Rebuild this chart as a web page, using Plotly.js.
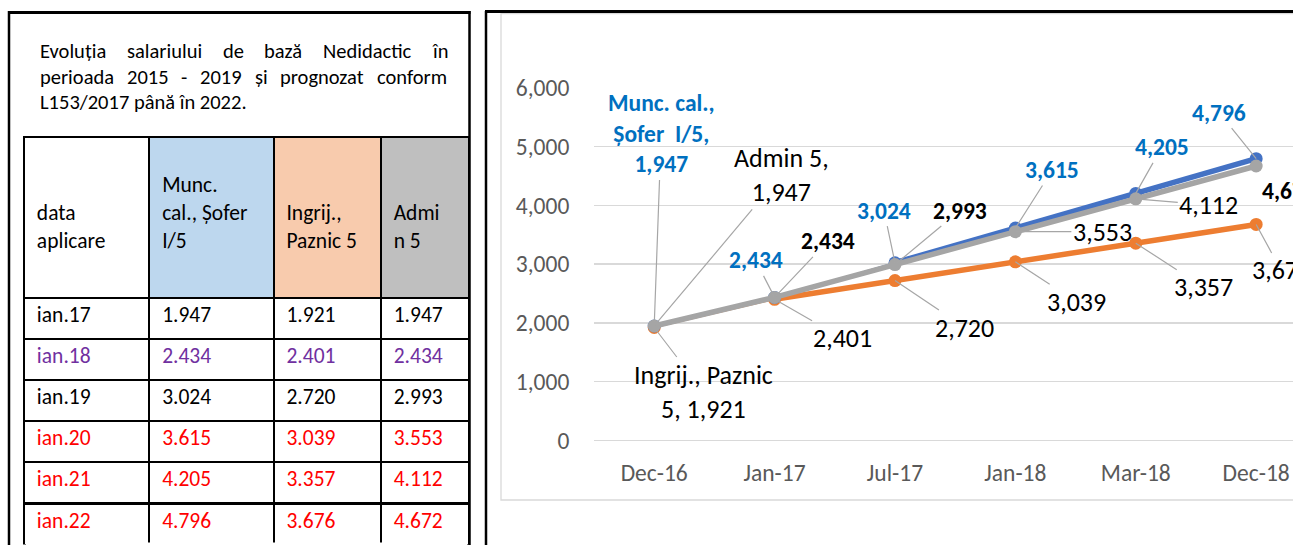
<!DOCTYPE html>
<html>
<head>
<meta charset="utf-8">
<script src="https://cdn.plot.ly/plotly-3.0.1.min.js"></script>
<style>
  html, body { margin: 0; padding: 0; background: #fff; }
  #chart { width: 1293px; height: 545px; }
</style>
</head>
<body>
<div id="chart"></div>
<script>
// chart data
const dates = ['Dec-16', 'Jan-17', 'Jul-17', 'Jan-18', 'Mar-18', 'Dec-18'];
const muncCal = [1947, 2434, 3024, 3615, 4205, 4796];
const ingrij = [1921, 2401, 2720, 3039, 3357, 3676];
const admin5 = [1947, 2434, 2993, 3553, 4112, 4672];
const yTicks = [0, 1000, 2000, 3000, 4000, 5000, 6000];

// table data
const tableDates = ['ian.17', 'ian.18', 'ian.19', 'ian.20', 'ian.21', 'ian.22'];
const tableHeaders = [['data', 'aplicare'], ['Munc.', 'cal., Șofer', 'I/5'], ['Ingrij.,', 'Paznic 5'], ['Admi', 'n 5']];
const headerFills = ['#FFFFFF', '#BDD7EE', '#F8CBAD', '#BFBFBF'];
const rowColors = ['#000000', '#7030A0', '#000000', '#FF0000', '#FF0000', '#FF0000'];

const paraLines = [
  'Evoluția salariului de bază Nedidactic în',
  'perioada 2015 - 2019 și prognozat conform',
  'L153/2017 până în 2022.'
];

const FONT = 'Calibri, Carlito, Lato, sans-serif';
const W = 1293, H = 545;
const px = x => x / W;
const py = y => 1 - y / H;

const fmtEn = v => v.toLocaleString('en-US');
const fmtRo = v => v.toLocaleString('de-DE');
const pad = s => '\u00A0' + s;
const NB = '\u00A0<br>';

const BLUE = '#4472C4', ORANGE = '#ED7D31', GRAY = '#A5A5A5';
const THIN = 1.5, THICK = 5.5;

function lineTrace(xs, ys, color, width) {
  return { type: 'scatter', mode: 'lines', x: xs, y: ys, line: { color: color, width: width },
    hoverinfo: 'skip', showlegend: false };
}
function markerTrace(ys, color) {
  return { type: 'scatter', mode: 'markers', x: dates, y: ys,
    marker: { color: color, size: 13 }, hoverinfo: 'skip', showlegend: false };
}

const traces = [
  {
    type: 'table',
    domain: { x: [px(24), px(469)], y: [0, py(136.5)] },
    columnwidth: [125, 124, 107, 88],
    header: {
      values: tableHeaders.map(h => (h.length > 2 ? NB : NB + NB) + h.map(pad).join('<br>')),
      align: 'left',
      height: 161,
      fill: { color: headerFills },
      line: { color: '#000000', width: 2 },
      font: { family: FONT, size: 21.5, color: '#000000' }
    },
    cells: {
      values: [tableDates, muncCal.map(fmtRo), ingrij.map(fmtRo), admin5.map(fmtRo)].map(col => col.map(pad)),
      align: 'left',
      height: 41.2,
      fill: { color: '#FFFFFF' },
      line: { color: '#000000', width: 2 },
      font: { family: FONT, size: 21.5, color: [rowColors, rowColors, rowColors, rowColors] }
    }
  },
  lineTrace(dates.slice(1), ingrij.slice(1), ORANGE, THICK),
  lineTrace(dates.slice(0, 2), ingrij.slice(0, 2), ORANGE, THIN),
  markerTrace(ingrij, ORANGE),
  lineTrace(dates.slice(0, 3), muncCal.slice(0, 3), BLUE, THIN),
  lineTrace(dates.slice(2), muncCal.slice(2), BLUE, THICK),
  markerTrace(muncCal, BLUE),
  lineTrace(dates, admin5, GRAY, THICK),
  markerTrace(admin5, GRAY)
];

// data labels with leader lines
const blueFont = { family: FONT, size: 23.5, color: '#0070C0', weight: 'bold' };
const blackFont = { family: FONT, size: 26, color: '#000000' };
const boldFont = { family: FONT, size: 23.5, color: '#000000', weight: 'bold' };

function label(i, series, text, ax, ay, font, arrow) {
  return {
    x: dates[i], y: series[i], xref: 'x', yref: 'y',
    text: text, ax: ax, ay: ay, font: font,
    showarrow: true, arrowhead: 0, arrowwidth: 1.2, standoff: 0,
    arrowcolor: arrow === false ? 'rgba(0,0,0,0)' : '#A6A6A6'
  };
}

const annotations = [
  label(0, muncCal, 'Munc. cal.,<br>Șofer  I/5,<br>' + fmtEn(muncCal[0]), 7, -192, blueFont),
  label(1, muncCal, fmtEn(muncCal[1]), -19, -37, blueFont),
  label(2, muncCal, fmtEn(muncCal[2]), -11, -52, blueFont),
  label(3, muncCal, fmtEn(muncCal[3]), 37, -58, blueFont),
  label(4, muncCal, fmtEn(muncCal[4]), 26, -46, blueFont),
  label(5, muncCal, fmtEn(muncCal[5]), -37, -46, blueFont),

  label(0, admin5, 'Admin 5,<br>' + fmtEn(admin5[0]), 127, -151, blackFont),
  label(1, admin5, fmtEn(admin5[1]), 53, -56, boldFont),
  label(2, admin5, fmtEn(admin5[2]), 65, -54, boldFont),
  label(3, admin5, fmtEn(admin5[3]), 87, 0, blackFont),
  label(4, admin5, fmtEn(admin5[4]), 73, 6, blackFont),
  label(5, admin5, fmtEn(admin5[5]), 33, 25, boldFont, false),

  label(0, ingrij, 'Ingrij., Paznic<br>5, ' + fmtEn(ingrij[0]), 49, 64, blackFont),
  label(1, ingrij, fmtEn(ingrij[1]), 68, 39, blackFont),
  label(2, ingrij, fmtEn(ingrij[2]), 70, 47, blackFont),
  label(3, ingrij, fmtEn(ingrij[3]), 61, 40, blackFont),
  label(4, ingrij, fmtEn(ingrij[4]), 68, 44, blackFont),
  label(5, ingrij, fmtEn(ingrij[5]), 25, 46, blackFont)
];

// justified paragraph above the table
const paraSize = 20.5;
const paraLeft = 39, paraRight = 446, paraY = [51, 77, 102];
const ctx = document.createElement('canvas').getContext('2d');
ctx.font = paraSize + 'px ' + FONT;
paraLines.forEach((line, li) => {
  const base = { xref: 'paper', yref: 'paper', xanchor: 'left', yanchor: 'middle', showarrow: false,
    font: { family: FONT, size: paraSize, color: '#000000' }, y: py(paraY[li]) };
  if (li === paraLines.length - 1) {
    annotations.push(Object.assign({}, base, { x: px(paraLeft - 1), text: line }));
    return;
  }
  const words = line.split(' ');
  const widths = words.map(w => ctx.measureText(w).width);
  const gap = (paraRight - paraLeft - widths.reduce((a, b) => a + b, 0)) / (words.length - 1);
  let x = paraLeft;
  words.forEach((w, k) => {
    annotations.push(Object.assign({}, base, { x: px(x - 1), text: w }));
    x += widths[k] + gap;
  });
});

const frame = { color: '#000000', width: 2.5 };
const shapes = [
  { type: 'rect', xref: 'paper', yref: 'paper', x0: px(501), x1: px(1310), y0: py(500), y1: py(13.5),
    line: { color: '#D9D9D9', width: 1.3 }, layer: 'below' },
  // the table runs on past the bottom edge: hide its closing border
  { type: 'line', xref: 'paper', yref: 'paper', x0: px(26), x1: px(467), y0: py(544), y1: py(544),
    line: { color: '#FFFFFF', width: 3 } },
  { type: 'line', xref: 'paper', yref: 'paper', x0: px(9), x1: px(9), y0: py(11), y1: 0, line: frame },
  { type: 'line', xref: 'paper', yref: 'paper', x0: px(469.5), x1: px(469.5), y0: py(11), y1: 0, line: frame },
  { type: 'line', xref: 'paper', yref: 'paper', x0: px(486), x1: px(486), y0: py(11), y1: 0, line: frame },
  { type: 'line', xref: 'paper', yref: 'paper', x0: px(8), x1: px(470.5), y0: py(12.5), y1: py(12.5),
    line: { color: '#000000', width: 3 } },
  { type: 'line', xref: 'paper', yref: 'paper', x0: px(485), x1: 1, y0: py(11.5), y1: py(11.5),
    line: { color: '#000000', width: 3 } }
];

const tickFont = { family: FONT, size: 23.5, color: '#595959' };
const layout = {
  width: W, height: H, autosize: false,
  margin: { l: 0, r: 0, t: 0, b: 0 },
  paper_bgcolor: '#FFFFFF', plot_bgcolor: 'rgba(0,0,0,0)',
  showlegend: false,
  hovermode: false,
  xaxis: {
    type: 'category', categoryorder: 'array', categoryarray: dates,
    domain: [px(594), 1], range: [-0.5, 5.306],
    showgrid: false, zeroline: false, showline: false,
    ticks: 'outside', ticklen: 11, tickcolor: 'rgba(0,0,0,0)',
    tickfont: tickFont
  },
  yaxis: {
    domain: [py(440.3), py(88)], range: [0, 6000],
    tickvals: yTicks, tickformat: ',d',
    showgrid: true, gridcolor: '#D9D9D9', gridwidth: 1.3,
    zeroline: true, zerolinecolor: '#D9D9D9', zerolinewidth: 1.3, showline: false,
    ticks: 'outside', ticklen: 19, tickcolor: 'rgba(0,0,0,0)',
    tickfont: tickFont
  },
  annotations: annotations,
  shapes: shapes
};

Plotly.newPlot('chart', traces, layout, { staticPlot: true, displayModeBar: false });
</script>
</body>
</html>
